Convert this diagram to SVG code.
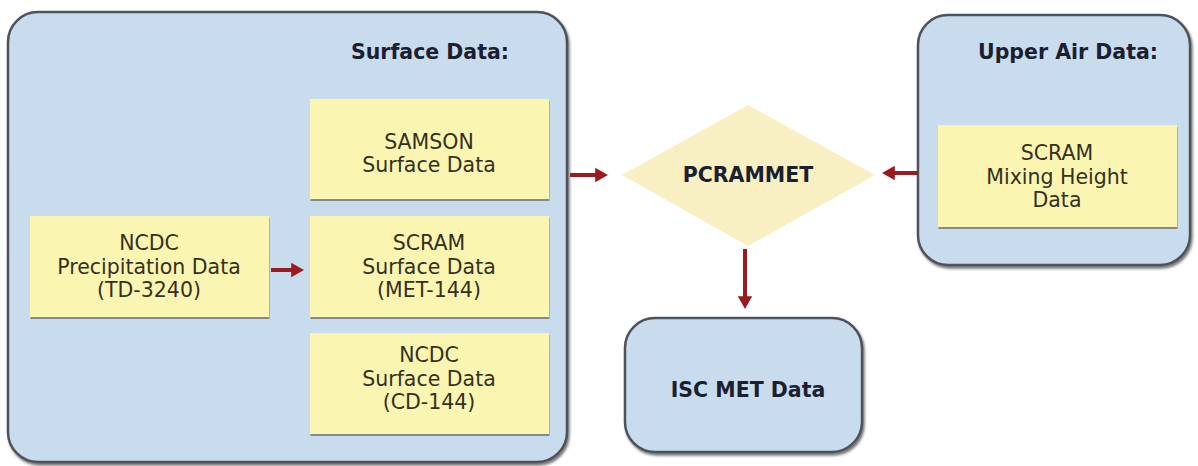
<svg xmlns="http://www.w3.org/2000/svg" width="1198" height="466" viewBox="0 0 1198 466">
<style>
.cont{fill:#c9dcee;stroke:#4d535b;stroke-width:2.5;filter:url(#sh)}
.box{fill:#fbf5b2;filter:url(#sh2)}
.dia{fill:#f8f0c2}
.t{font-family:"DejaVu Sans",Verdana,sans-serif;font-size:20.5px;fill:#33311e;text-anchor:middle}
.h{font-family:"DejaVu Sans",Verdana,sans-serif;font-size:20.5px;font-weight:bold;fill:#1b2030;text-anchor:middle}
.c{stroke:#9a1a20;stroke-width:4;fill:none;marker-end:url(#ah)}
</style>
<defs>
<filter id="sh" x="-5%" y="-5%" width="110%" height="110%"><feDropShadow dx="1.5" dy="2.5" stdDeviation="1.3" flood-color="#333" flood-opacity="0.65"/></filter>
<filter id="sh2" x="-5%" y="-5%" width="110%" height="115%"><feDropShadow dx="0.5" dy="2" stdDeviation="0.6" flood-color="#666" flood-opacity="0.7"/></filter>
<marker id="ah" markerWidth="4" markerHeight="4" refX="2.2" refY="2" orient="auto" markerUnits="strokeWidth"><path d="M0,0.2 L3.2,2 L0,3.8 Z" fill="#9a1a20"/></marker>
</defs>
<rect width="1198" height="466" fill="#ffffff"/>
<g id="surface">
<rect class="cont" x="8" y="12" width="559" height="450" rx="30"/>
<text class="h" x="430" y="59">Surface Data:</text>
</g>
<g id="samson">
<rect class="box" x="310" y="99" width="239" height="100"/>
<text class="t" x="429" y="149">SAMSON</text>
<text class="t" x="429" y="172">Surface Data</text>
</g>
<g id="scram-surface">
<rect class="box" x="310" y="216" width="239" height="101"/>
<text class="t" x="429" y="250">SCRAM</text>
<text class="t" x="429" y="274">Surface Data</text>
<text class="t" x="429" y="297">(MET-144)</text>
</g>
<g id="ncdc-surface">
<rect class="box" x="310" y="333" width="239" height="101"/>
<text class="t" x="429" y="362">NCDC</text>
<text class="t" x="429" y="386">Surface Data</text>
<text class="t" x="429" y="409">(CD-144)</text>
</g>
<g id="ncdc-precip">
<rect class="box" x="30" y="216" width="239" height="101"/>
<text class="t" x="149" y="250">NCDC</text>
<text class="t" x="149" y="274">Precipitation Data</text>
<text class="t" x="149" y="297">(TD-3240)</text>
</g>
<g id="upper">
<rect class="cont" x="918" y="15" width="272" height="250" rx="30"/>
<text class="h" x="1068" y="59">Upper Air Data:</text>
</g>
<g id="scram-mixing">
<rect class="box" x="938" y="125" width="239" height="102"/>
<text class="t" x="1057" y="160">SCRAM</text>
<text class="t" x="1057" y="184">Mixing Height</text>
<text class="t" x="1057" y="207">Data</text>
</g>
<g id="pcrammet">
<polygon class="dia" points="622,175 748,105 875,175 748,246"/>
<text class="h" x="748" y="182">PCRAMMET</text>
</g>
<g id="isc">
<rect class="cont" x="625" y="318" width="237" height="134" rx="30"/>
<text class="h" x="748" y="397">ISC MET Data</text>
</g>
<g id="connectors">
<line class="c" x1="271" y1="270" x2="300" y2="270"/>
<line class="c" x1="570" y1="175" x2="604" y2="175"/>
<line class="c" x1="918" y1="173" x2="886" y2="173"/>
<line class="c" x1="745" y1="249" x2="745" y2="305"/>
</g>
</svg>
